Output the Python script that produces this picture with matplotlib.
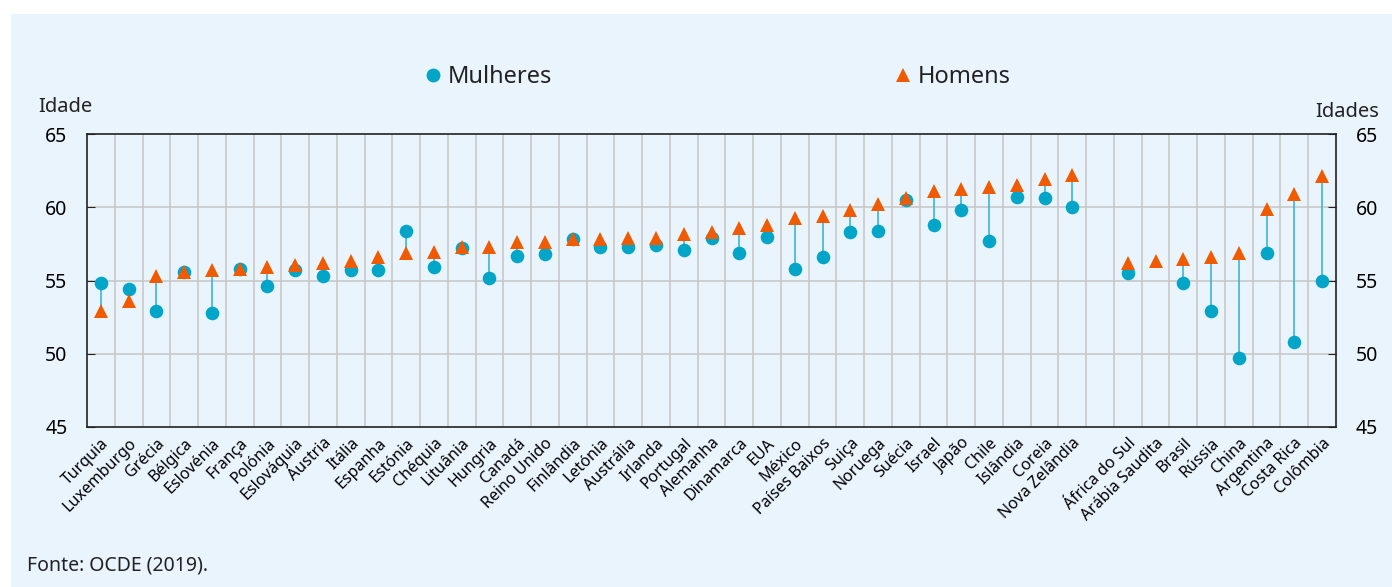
import matplotlib
matplotlib.use("Agg")
import matplotlib.pyplot as plt
import numpy as np
from matplotlib.patches import Rectangle
from matplotlib.lines import Line2D

plt.rcParams['font.family'] = ['Noto Sans', 'DejaVu Sans']

countries_oecd = ["Turquia", "Luxemburgo", "Grécia", "Bélgica", "Eslovénia", "França", "Polónia",
                  "Eslováquia", "Áustria", "Itália", "Espanha", "Estónia", "Chéquia", "Lituânia",
                  "Hungria", "Canadá", "Reino Unido", "Finlândia", "Letónia", "Austrália", "Irlanda",
                  "Portugal", "Alemanha", "Dinamarca", "EUA", "México", "Países Baixos", "Suiça",
                  "Noruega", "Suécia", "Israel", "Japão", "Chile", "Islândia", "Coreia", "Nova Zelândia"]
women_oecd = [54.8, 54.4, 52.9, 55.6, 52.8, 55.8, 54.6, 55.7, 55.3, 55.7, 55.7, 58.4, 55.9, 57.2,
              55.2, 56.7, 56.8, 57.85, 57.3, 57.3, 57.4, 57.1, 57.9, 56.9, 58.0, 55.8, 56.6, 58.3,
              58.35, 60.5, 58.8, 59.8, 57.7, 60.7, 60.6, 60.0]
men_oecd = [52.9, 53.6, 55.3, 55.6, 55.7, 55.8, 55.9, 56.05, 56.2, 56.3, 56.6, 56.9, 56.95, 57.3,
            57.3, 57.6, 57.65, 57.8, 57.8, 57.9, 57.9, 58.2, 58.3, 58.6, 58.8, 59.3, 59.4, 59.8,
            60.2, 60.6, 61.1, 61.25, 61.4, 61.5, 61.9, 62.2]

countries_other = ["África do Sul", "Arábia Saudita", "Brasil", "Rússia", "China", "Argentina",
                   "Costa Rica", "Colômbia"]
women_other = [55.5, np.nan, 54.8, 52.9, 49.7, 56.9, 50.8, 55.0]
men_other = [56.2, 56.3, 56.45, 56.6, 56.9, 59.9, 60.9, 62.1]

yticks = [45, 50, 55, 60, 65]

labels = countries_oecd + [""] + countries_other
women = np.array(women_oecd + [np.nan] + women_other, dtype=float)
men = np.array(men_oecd + [np.nan] + men_other, dtype=float)
x = np.arange(len(labels))

W, H = 1392, 587
fig = plt.figure(figsize=(W / 100, H / 100), dpi=100, facecolor="white")
bg = "#EAF4FD"
fig.patches.append(Rectangle((11 / W, 0), 1 - 11 / W, 1 - 14 / H, transform=fig.transFigure,
                             facecolor=bg, edgecolor="none", zorder=-10))

ax = fig.add_axes([87 / W, (H - 427) / H, (1336 - 87) / W, (427 - 134) / H])
ax.set_facecolor(bg)

c_w = "#00A5C8"
c_m = "#F05A00"
c_line = "#3BB5D8"

for xi, w, m in zip(x, women, men):
    if not (np.isnan(w) or np.isnan(m)):
        ax.plot([xi, xi], [w, m], color=c_line, lw=1.2, zorder=2)
ax.plot(x, women, 'o', color=c_w, ms=9.8, markeredgewidth=0, zorder=3, label="Mulheres")
ax.plot(x, men, '^', color=c_m, ms=9.8, markeredgewidth=0, zorder=4, label="Homens")

ax.set_xlim(-0.5, len(labels) - 0.5)
ax.set_ylim(45, 65)
ax.set_yticks(yticks)
ax.set_xticks(x)
ax.set_xticklabels(labels, rotation=45, ha="right", rotation_mode="anchor", fontsize=11.5)
ax.tick_params(axis="x", length=0, pad=6)
ax.tick_params(axis="y", direction="in", length=6, labelsize=14, pad=14,
               right=True, labelright=True, color="#222222")

for b in np.arange(0.5, len(labels) - 0.5, 1.0):
    ax.axvline(b, color="#C8C8C8", lw=1.2, zorder=1)
for yv in [50, 55, 60]:
    ax.axhline(yv, color="#C8C8C8", lw=1.2, zorder=1)

for s in ax.spines.values():
    s.set_color("#222222")
    s.set_linewidth(1.2)

fig.text(38 / W, 1 - 107 / H, "Idade", fontsize=14.5, ha="left", va="center", color="#222222")
fig.text(1379 / W, 1 - 112 / H, "Idades", fontsize=14.5, ha="right", va="center", color="#222222")
fig.text(27 / W, 1 - 566 / H, "Fonte: OCDE (2019).", fontsize=14, ha="left", va="center", color="#222222")

handles = [Line2D([], [], marker='o', ls='none', color=c_w, ms=10, markeredgewidth=0),
           Line2D([], [], marker='^', ls='none', color=c_m, ms=10, markeredgewidth=0)]
leg = fig.legend(handles, ["Mulheres", "Homens"], loc="center", bbox_to_anchor=(716 / W, 1 - 77 / H),
                 ncol=2, frameon=False, fontsize=17, handletextpad=0.1, columnspacing=14.4,
                 handlelength=1.0)
for t in leg.get_texts():
    t.set_color("#222222")

fig.savefig("out.png", dpi=100, facecolor="white")
